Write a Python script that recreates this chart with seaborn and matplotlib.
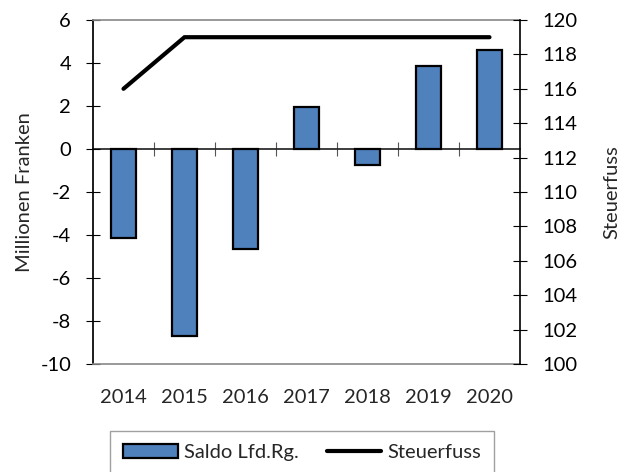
import matplotlib
matplotlib.use("Agg")
import matplotlib.pyplot as plt
import seaborn as sns
import numpy as np
import pandas as pd

years = ["2014", "2015", "2016", "2017", "2018", "2019", "2020"]
saldo = [-4.15, -8.68, -4.63, 1.97, -0.74, 3.86, 4.6]
steuerfuss = [116, 119, 119, 119, 119, 119, 119]
left_ticks = [-10, -8, -6, -4, -2, 0, 2, 4, 6]
right_ticks = [100, 102, 104, 106, 108, 110, 112, 114, 116, 118, 120]

sns.set_theme(style="white")
plt.rcParams['font.family'] = ['Lato', 'DejaVu Sans']
FS = 14.5

df = pd.DataFrame({"Jahr": years, "Saldo": saldo, "Steuerfuss": steuerfuss})

fig = plt.figure(figsize=(6.28, 4.72), dpi=100)
ax = fig.add_axes([93/628, 1 - 364/472, (520 - 93)/628, (364 - 20)/472])

sns.barplot(data=df, x="Jahr", y="Saldo", ax=ax, color="#4F81BD", saturation=1,
            width=0.41, edgecolor="black", linewidth=1.6, label="Saldo Lfd.Rg.")
ax.set_ylim(-10, 6)
ax.set_yticks(left_ticks)
ax.set_yticklabels([str(t) for t in left_ticks])
ax.set_xlim(-0.5, len(years) - 0.5)
ax.set_xlabel("")
ax.set_ylabel("Millionen Franken", fontsize=FS)
ax.yaxis.set_label_coords((33 - 93) / 427, 0.5)
ax.tick_params(axis="y", direction="inout", length=10.5, width=0.8, colors="black",
               labelsize=FS, pad=10.5, left=True)
ax.tick_params(axis="x", length=0, labelsize=FS, pad=18)
for s in ["top", "bottom"]:
    ax.spines[s].set_color("#888888")
    ax.spines[s].set_linewidth(1.2)
ax.spines["left"].set_color("black")
ax.spines["right"].set_visible(False)

# zero line with category separator ticks
zero_frac = (0 - (-10)) / (6 - (-10))
sec = ax.secondary_xaxis(zero_frac)
sec.set_xticks(np.arange(len(years) - 1) + 0.5)
sec.set_xticklabels([])
sec.tick_params(direction="inout", length=10, width=0.8, color="#555555")
sec.spines["bottom"].set_color("black")
sec.spines["bottom"].set_linewidth(1.0)

ax2 = ax.twinx()
sns.pointplot(data=df, x="Jahr", y="Steuerfuss", ax=ax2, color="black",
              markers="", linestyles="-", errorbar=None, label="Steuerfuss")
for ln in ax2.lines:
    ln.set_linewidth(3.0)
    ln.set_solid_capstyle("round")
    ln.set_solid_joinstyle("miter")
ax2.set_ylim(100, 120)
ax2.set_yticks(right_ticks)
ax2.set_yticklabels([str(t) for t in right_ticks])
ax2.set_xlim(-0.5, len(years) - 0.5)
ax2.set_ylabel("Steuerfuss", fontsize=FS)
ax2.yaxis.set_label_coords((603 - 93) / 427, 0.5)
ax2.tick_params(axis="y", direction="inout", length=10.5, width=0.8, colors="black",
                labelsize=FS, pad=10.5, right=True)
for s in ["top", "bottom", "left"]:
    ax2.spines[s].set_visible(False)
ax2.spines["right"].set_color("black")
ax2.spines["right"].set_linewidth(1.2)
ax2.grid(False)
ax.grid(False)

h1, l1 = ax.get_legend_handles_labels()
h2, l2 = ax2.get_legend_handles_labels()
if ax2.get_legend():
    ax2.get_legend().remove()
if ax.get_legend():
    ax.get_legend().remove()
leg = fig.legend(h1 + h2, l1 + l2, loc="upper center", bbox_to_anchor=(302/628, 1 - 431/472),
                 ncol=2, frameon=True, fancybox=False, fontsize=FS, handlelength=2.7,
                 handletextpad=0.3, columnspacing=1.4, borderpad=0.65, borderaxespad=0.0)
leg.get_frame().set_edgecolor("#888888")
leg.get_frame().set_linewidth(1.0)

fig.savefig("out.png", dpi=100)
